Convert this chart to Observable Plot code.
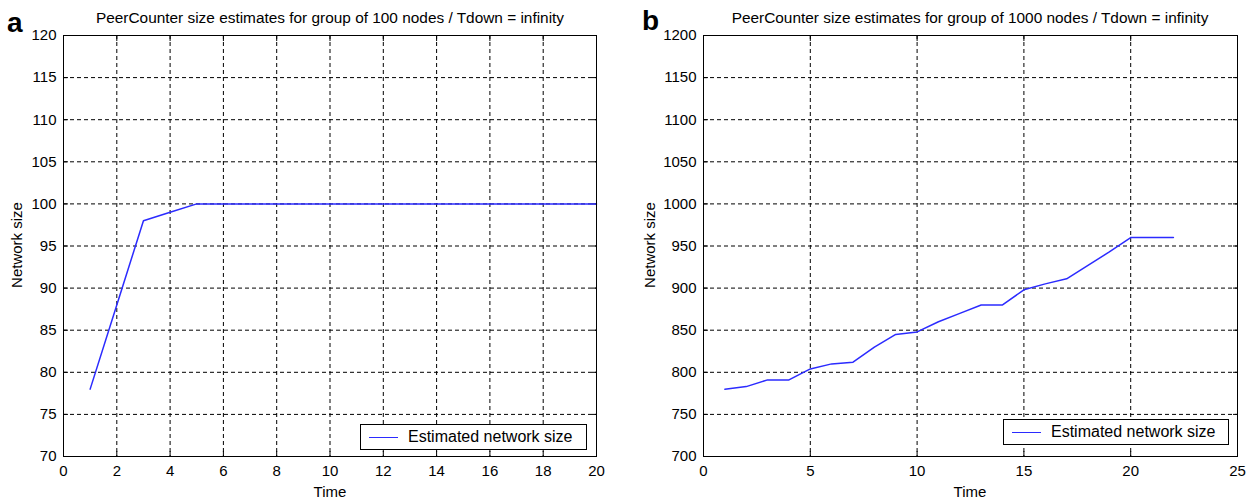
<!DOCTYPE html>
<html><head><meta charset="utf-8">
<script src="https://cdn.jsdelivr.net/npm/d3@7"></script>
<script src="https://cdn.jsdelivr.net/npm/@observablehq/plot@0.6"></script>
<style>
body{margin:0;background:#fff;font-family:"Liberation Sans",Arial,sans-serif;color:#000}
#wrap{position:relative;width:1248px;height:499px;overflow:hidden;background:#fff}
.panel{position:absolute;top:0}
.letter{position:absolute;font-weight:bold;font-size:28px;line-height:1}
.title{position:absolute;font-size:15.4px;transform:translateX(-50%);white-space:nowrap;line-height:1}
.xlab{position:absolute;font-size:15px;transform:translateX(-50%);line-height:1}
.ylab{position:absolute;font-size:15px;transform:translate(-50%,-50%) rotate(-90deg);white-space:nowrap;line-height:1}
.legend{position:absolute;border:1px solid #000;background:#fff;box-sizing:border-box;display:flex;align-items:center;font-size:16px;white-space:nowrap}
.legend .sw{display:inline-block;width:29px;height:0;border-top:1.5px solid #2b2bff;margin:0 10px 0 8px}
</style></head>
<body>
<div id="wrap"></div>
<script>
// Panel a: group of 100 nodes
const timeA = [1,2,3,4,5,6,7,8,9,10,11,12,13,14,15,16,17,18,19,20];
const sizeA = [78,88,98,99,100,100,100,100,100,100,100,100,100,100,100,100,100,100,100,100];
const xTicksA = [0,2,4,6,8,10,12,14,16,18,20];
const yTicksA = [70,75,80,85,90,95,100,105,110,115,120];
// Panel b: group of 1000 nodes
const timeB = [1,2,3,4,5,6,7,8,9,10,11,12,13,14,15,16,17,18,19,20,21,22];
const sizeB = [780,783,791,791,804,810,812,830,845,848,860,870,880,880,898,905,911,927,943,960,960,960];
const xTicksB = [0,5,10,15,20,25];
const yTicksB = [700,750,800,850,900,950,1000,1050,1100,1150,1200];

const titleA = "PeerCounter size estimates for group of 100 nodes / Tdown = infinity";
const titleB = "PeerCounter size estimates for group of 1000 nodes / Tdown = infinity";
const legendText = "Estimated network size";

const wrap = document.getElementById("wrap");

function panel({left, width, marginRight, xTicks, yTicks, time, size}) {
  const xd = [xTicks[0], xTicks[xTicks.length-1]];
  const yd = [yTicks[0], yTicks[yTicks.length-1]];
  const data = time.map((t,i)=>({t, v:size[i]}));
  const fmt = d => String(d);
  const p = Plot.plot({
    width, height: 499,
    marginLeft: 63, marginRight, marginTop: 35, marginBottom: 43,
    x: {domain: xd, ticks: xTicks},
    y: {domain: yd, ticks: yTicks},
    style: {fontFamily: '"Liberation Sans", Arial, sans-serif', fontSize: "15px", color: "black", background: "white", overflow: "visible"},
    marks: [
      Plot.gridX(xTicks, {stroke: "black", strokeOpacity: 1, strokeDasharray: "4,3", strokeWidth: 1}),
      Plot.gridY(yTicks, {stroke: "black", strokeOpacity: 1, strokeDasharray: "4,3", strokeWidth: 1}),
      Plot.axisX(xTicks, {tickSize: 0, tickPadding: 9, tickFormat: fmt, label: null}),
      Plot.axisX(xTicks, {anchor: "bottom", tickSize: -5, tickFormat: () => "", label: null}),
      Plot.axisX(xTicks, {anchor: "top", tickSize: -5, tickFormat: () => "", label: null}),
      Plot.axisY(yTicks, {tickSize: 0, tickPadding: 7, tickFormat: fmt, label: null}),
      Plot.axisY(yTicks, {anchor: "left", tickSize: -5, tickFormat: () => "", label: null}),
      Plot.axisY(yTicks, {anchor: "right", tickSize: -5, tickFormat: () => "", label: null}),
      Plot.line(data, {x: "t", y: "v", stroke: "#2b2bff", strokeWidth: 1.5}),
      Plot.frame({stroke: "black", strokeWidth: 1})
    ]
  });
  p.classList.add("panel");
  p.style.left = left + "px";
  wrap.appendChild(p);
}

panel({left: 0, width: 620, marginRight: 24, xTicks: xTicksA, yTicks: yTicksA, time: timeA, size: sizeA});
panel({left: 640, width: 608, marginRight: 11, xTicks: xTicksB, yTicks: yTicksB, time: timeB, size: sizeB});

function addDiv(cls, text, css) {
  const d = document.createElement("div");
  d.className = cls;
  d.textContent = text;
  Object.assign(d.style, css);
  wrap.appendChild(d);
  return d;
}
addDiv("letter", "a", {left: "7px", top: "9px"});
addDiv("letter", "b", {left: "642px", top: "7px"});
addDiv("title", titleA, {left: "330px", top: "10px"});
addDiv("title", titleB, {left: "970px", top: "10px"});
addDiv("xlab", "Time", {left: "330px", top: "484px"});
addDiv("xlab", "Time", {left: "970px", top: "484px"});
addDiv("ylab", "Network size", {left: "16px", top: "245px"});
addDiv("ylab", "Network size", {left: "649px", top: "245px"});

function legend(css) {
  const d = document.createElement("div");
  d.className = "legend";
  Object.assign(d.style, css);
  const sw = document.createElement("span"); sw.className = "sw";
  const tx = document.createElement("span"); tx.textContent = legendText;
  d.appendChild(sw); d.appendChild(tx);
  wrap.appendChild(d);
}
legend({left: "360px", top: "424px", width: "227px", height: "26px"});
legend({left: "1003px", top: "419px", width: "226px", height: "26px"});
</script>
</body></html>
